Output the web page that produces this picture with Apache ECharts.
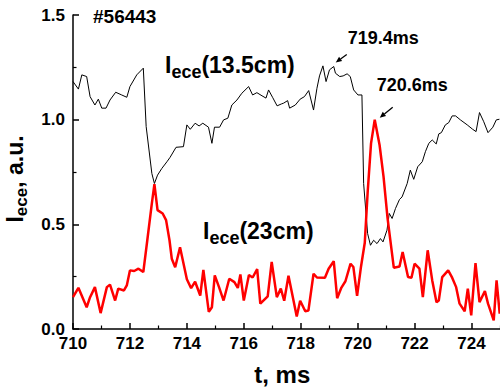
<!DOCTYPE html>
<html>
<head>
<meta charset="utf-8">
<script src="https://cdn.jsdelivr.net/npm/echarts@6/dist/echarts.min.js"></script>
<style>
  html, body { margin: 0; padding: 0; background: #fff; }
  #chart { width: 500px; height: 392px; }
</style>
</head>
<body>
<div id="chart"></div>
<script>
// ECE intensity traces, shot #56443
const FONT = '"Liberation Sans", Arial, Helvetica, sans-serif';

const xTickLabels = [710, 712, 714, 716, 718, 720, 722, 724];
const yTickLabels = [0.0, 0.5, 1.0, 1.5];

// channel at 13.5 cm
const t135 = [710.00,710.19,710.31,710.48,710.60,710.77,710.89,711.01,711.16,711.30,
  711.50,711.71,711.89,712.00,712.24,712.47,712.57,712.77,712.86,712.97,
  713.12,713.30,713.41,713.62,713.88,714.00,714.12,714.29,714.43,714.56,
  714.76,714.88,714.97,715.15,715.29,715.44,715.58,715.76,715.93,716.17,
  716.31,716.46,716.64,716.78,716.87,717.01,717.17,717.32,717.40,717.54,
  717.61,717.81,717.98,718.13,718.28,718.45,718.57,718.66,718.78,718.89,
  719.01,719.16,719.22,719.37,719.49,719.63,719.74,719.86,720.01,720.15,
  720.21,720.35,720.45,720.56,720.68,720.80,720.89,721.03,721.11,721.21,
  721.33,721.47,721.56,721.74,721.85,721.97,722.11,722.27,722.38,722.50,
  722.62,722.76,722.85,722.94,723.08,723.20,723.32,723.44,723.61,723.85,
  724.04,724.16,724.28,724.43,724.58,724.75,724.87,724.98];
const v135 = [1.182,1.146,1.214,1.206,1.110,1.070,1.098,1.055,1.055,1.094,
  1.131,1.118,1.107,1.158,1.214,1.246,0.967,0.743,0.695,0.735,
  0.767,0.799,0.820,0.868,0.871,0.975,0.954,0.983,0.970,0.983,
  0.964,0.887,0.964,0.964,0.999,1.007,1.070,1.094,1.126,1.158,
  1.118,1.129,1.114,1.103,1.142,1.107,1.066,1.075,1.079,1.091,
  1.055,1.070,1.098,1.110,1.139,1.046,1.150,1.209,1.257,1.182,
  1.238,1.254,1.222,1.206,1.209,1.219,1.206,1.142,1.118,1.118,
  0.695,0.456,0.400,0.424,0.408,0.432,0.416,0.472,0.552,0.528,
  0.576,0.619,0.631,0.695,0.759,0.715,0.775,0.799,0.847,0.887,
  0.903,0.884,0.932,0.938,0.975,0.986,1.018,1.018,0.999,0.975,
  0.954,0.943,1.034,0.990,0.938,0.964,0.999,1.002];

// channel at 23 cm
const t23 = [710.00,710.19,710.48,710.60,710.77,710.97,711.19,711.30,711.48,711.59,
  711.79,711.89,712.00,712.15,712.30,712.47,712.61,712.77,712.86,712.97,
  713.15,713.27,713.39,713.47,713.59,713.76,714.00,714.15,714.29,714.47,
  714.58,714.77,714.88,714.98,715.13,715.29,715.49,715.67,715.79,715.88,
  716.00,716.18,716.31,716.47,716.58,716.84,716.98,717.16,717.30,717.42,
  717.57,717.86,717.98,718.16,718.27,718.45,718.57,718.85,718.98,719.16,
  719.28,719.43,719.57,719.75,719.85,719.98,720.12,720.25,720.35,720.47,
  720.60,720.77,720.91,721.05,721.27,721.47,721.58,721.77,721.89,722.00,
  722.17,722.29,722.46,722.62,722.77,722.85,722.97,723.18,723.32,723.46,
  723.58,723.76,723.87,723.99,724.14,724.28,724.47,724.58,724.78,724.88,724.99];
const v23 = [0.152,0.197,0.104,0.152,0.200,0.076,0.200,0.212,0.136,0.193,
  0.184,0.208,0.280,0.277,0.288,0.272,0.424,0.600,0.692,0.568,
  0.552,0.520,0.424,0.336,0.295,0.390,0.238,0.195,0.226,0.160,
  0.282,0.082,0.104,0.256,0.200,0.136,0.240,0.224,0.196,0.261,
  0.136,0.258,0.246,0.286,0.121,0.156,0.320,0.152,0.193,0.135,
  0.254,0.060,0.135,0.085,0.088,0.264,0.246,0.245,0.288,0.324,
  0.147,0.198,0.228,0.312,0.296,0.158,0.300,0.412,0.650,0.887,
  1.000,0.879,0.727,0.530,0.293,0.299,0.368,0.248,0.245,0.312,
  0.288,0.152,0.376,0.232,0.128,0.136,0.248,0.280,0.245,0.200,
  0.121,0.085,0.193,0.065,0.315,0.128,0.181,0.121,0.041,0.232,0.073];

const shotText = '#56443';
const label135 = '(13.5cm)';
const label23 = '(23cm)';
// time markers: which trace sample each arrow points at
const markers = [
  { text: '719.4ms', series: 't135', time: 719.16 },
  { text: '720.6ms', series: 't23', time: 720.60 }
];

const pairs = (ts, vs) => ts.map((t, i) => [t, vs[i]]);
const bold = { fontFamily: FONT, fontWeight: 'bold' };

function subRich(color, main, sub, pad) {
  return {
    m: Object.assign({ fontSize: main, color: color }, bold),
    s: Object.assign({ fontSize: sub, color: color, padding: [pad, 0, 0, 0] }, bold)
  };
}

const chart = echarts.init(document.getElementById('chart'), null, { renderer: 'svg' });

const axisCommon = {
  type: 'value',
  splitLine: { show: false },
  axisLine: { show: true, onZero: false, lineStyle: { color: '#000', width: 1.5 } },
  axisTick: { show: true, inside: true, length: 6, lineStyle: { color: '#000', width: 1.5 } },
  minorTick: { show: true, splitNumber: 2, length: 3.5, lineStyle: { color: '#000', width: 1.2 } }
};

chart.setOption({
  animation: false,
  backgroundColor: '#fff',
  grid: { left: 73, right: -28.45, top: 15, bottom: 63, containLabel: false, outerBoundsMode: 'none' },
  xAxis: Object.assign({}, axisCommon, {
    min: 710, max: 726, interval: 2,
    axisLabel: Object.assign({
      color: '#000', fontSize: 17, margin: 6,
      formatter: v => (xTickLabels.indexOf(v) >= 0 ? String(v) : '')
    }, bold),
    name: 't, ms',
    nameLocation: 'middle',
    nameGap: 33,
    nameTextStyle: Object.assign({ color: '#000', fontSize: 24, padding: [0, 37, 0, 0] }, bold)
  }),
  yAxis: Object.assign({}, axisCommon, {
    min: 0, max: 1.5, interval: 0.5,
    axisLabel: Object.assign({
      color: '#000', fontSize: 17, margin: 8,
      formatter: v => (yTickLabels.some(y => Math.abs(y - v) < 1e-9) ? v.toFixed(1) : '')
    }, bold),
    name: '{m|I}{s|ece}{m|, a.u.}',
    nameLocation: 'middle',
    nameRotate: 90,
    nameGap: 30,
    nameTextStyle: { rich: subRich('#000', 23, 17, 13), padding: [0, 14, 0, 0] }
  }),
  series: [
    {
      name: '13.5cm', type: 'line', data: pairs(t135, v135),
      symbol: 'none', lineStyle: { color: '#000', width: 1 }, z: 2
    },
    {
      name: '23cm', type: 'line', data: pairs(t23, v23),
      symbol: 'none', lineStyle: { color: '#ff0000', width: 2.5 }, z: 3
    }
  ]
});

// annotation layer: titles, trace labels and arrows
function arrow(tip, tail) {
  const dx = tip[0] - tail[0], dy = tip[1] - tail[1];
  const len = Math.hypot(dx, dy), ux = dx / len, uy = dy / len;
  const hl = 6, hw = 2.6;
  const bx = tip[0] - ux * hl, by = tip[1] - uy * hl;
  return [
    { type: 'line', shape: { x1: tail[0], y1: tail[1], x2: bx, y2: by },
      style: { stroke: '#000', lineWidth: 1.3 }, z: 10 },
    { type: 'polygon', shape: { points: [tip, [bx - uy * hw, by + ux * hw], [bx + uy * hw, by - ux * hw]] },
      style: { fill: '#000' }, z: 10 }
  ];
}

const seriesLookup = { t135: [t135, v135], t23: [t23, v23] };
const arrowOffsets = [
  { tip: [2, -4], tail: [13, -12], text: [14, -28] },
  { tip: [5, -2], tail: [18, -12.5], text: [2, -35] }
];

const graphics = [
  { type: 'text', x: 93, y: 16, style: Object.assign({ text: shotText, fontSize: 19, fill: '#000', verticalAlign: 'middle' }, bold), z: 10 },
  { type: 'text', x: 165, y: 65, style: { text: '{m|I}{s|ece}{m|' + label135 + '}', rich: subRich('#000', 23, 18, 14), verticalAlign: 'middle' }, z: 10 },
  { type: 'text', x: 203, y: 231, style: { text: '{m|I}{s|ece}{m|' + label23 + '}', rich: subRich('#ff0000', 23, 18, 14), verticalAlign: 'middle' }, z: 10 }
];

markers.forEach((mk, k) => {
  const [ts, vs] = seriesLookup[mk.series];
  const i = ts.indexOf(mk.time);
  const p = chart.convertToPixel({ gridIndex: 0 }, [ts[i], vs[i]]);
  const off = arrowOffsets[k];
  const tip = [p[0] + off.tip[0], p[1] + off.tip[1]];
  const tail = [p[0] + off.tail[0], p[1] + off.tail[1]];
  arrow(tip, tail).forEach(g => graphics.push(g));
  graphics.push({
    type: 'text', x: p[0] + off.text[0], y: p[1] + off.text[1],
    style: Object.assign({ text: mk.text, fontSize: 18, fill: '#000', verticalAlign: 'middle' }, bold), z: 10
  });
});

chart.setOption({ graphic: graphics });
</script>
</body>
</html>
